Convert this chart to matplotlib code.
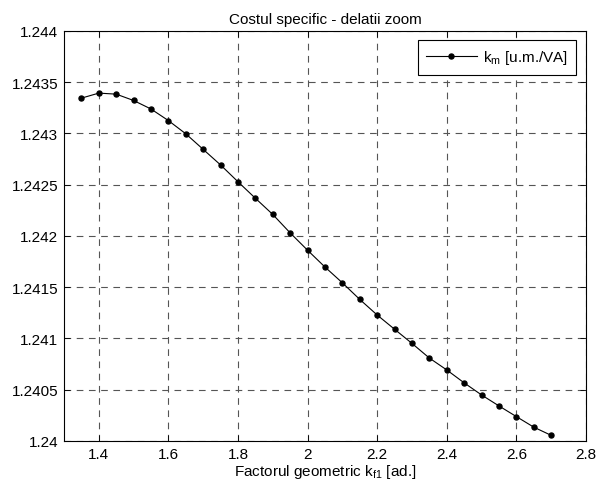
import matplotlib.pyplot as plt

plt.rcParams['font.family'] = ['Liberation Sans', 'DejaVu Sans']
plt.rcParams['font.size'] = 11

# factorul geometric kf1 si costul specific km
kf1 = [1.35, 1.40, 1.45, 1.50, 1.55, 1.60, 1.65, 1.70, 1.75, 1.80,
       1.85, 1.90, 1.95, 2.00, 2.05, 2.10, 2.15, 2.20, 2.25, 2.30,
       2.35, 2.40, 2.45, 2.50, 2.55, 2.60, 2.65, 2.70]
km = [1.243345, 1.243394, 1.243384, 1.243322, 1.243239, 1.243126, 1.242997,
      1.242845, 1.242693, 1.242529, 1.242368, 1.242210, 1.242030, 1.241861,
      1.241697, 1.241543, 1.241381, 1.241229, 1.241090, 1.240952, 1.240809,
      1.240693, 1.240567, 1.240449, 1.240342, 1.240238, 1.240135, 1.240055]

xticks = [1.4, 1.6, 1.8, 2.0, 2.2, 2.4, 2.6, 2.8]
xticklabels = ['1.4', '1.6', '1.8', '2', '2.2', '2.4', '2.6', '2.8']
yticks = [1.24, 1.2405, 1.241, 1.2415, 1.242, 1.2425, 1.243, 1.2435, 1.244]
yticklabels = ['1.24', '1.2405', '1.241', '1.2415', '1.242', '1.2425', '1.243', '1.2435', '1.244']

fig = plt.figure(figsize=(5.96, 4.89), dpi=100)
ax = fig.add_axes([64 / 596, 1 - 442 / 489, 522 / 596, 410 / 489])

ax.plot(kf1, km, color='black', linewidth=0.8, marker='o', markersize=3.6,
        label=r'k$_\mathregular{m}$ [u.m./VA]')

ax.set_xlim(1.3, 2.8)
ax.set_ylim(1.24, 1.244)
ax.set_xticks(xticks)
ax.set_xticklabels(xticklabels)
ax.set_yticks(yticks)
ax.set_yticklabels(yticklabels)
ax.tick_params(direction='in', top=True, right=True, length=4, width=0.6, pad=4)
ax.grid(True, linestyle=(0, (6, 5)), color='#555555', linewidth=0.8)
for s in ax.spines.values():
    s.set_linewidth(0.8)

ax.set_title('Costul specific - delatii zoom', fontsize=11, pad=6)
ax.set_xlabel(r'Factorul geometric k$_\mathregular{f1}$ [ad.]', labelpad=1)

leg = ax.legend(loc='upper right', bbox_to_anchor=(1 - 10 / 522, 1 - 9 / 410),
                borderaxespad=0, fancybox=False, framealpha=1,
                edgecolor='black', handlelength=3.3, borderpad=0.55,
                handletextpad=0.4)
leg.get_frame().set_linewidth(0.8)

fig.savefig('out.png', dpi=100)
